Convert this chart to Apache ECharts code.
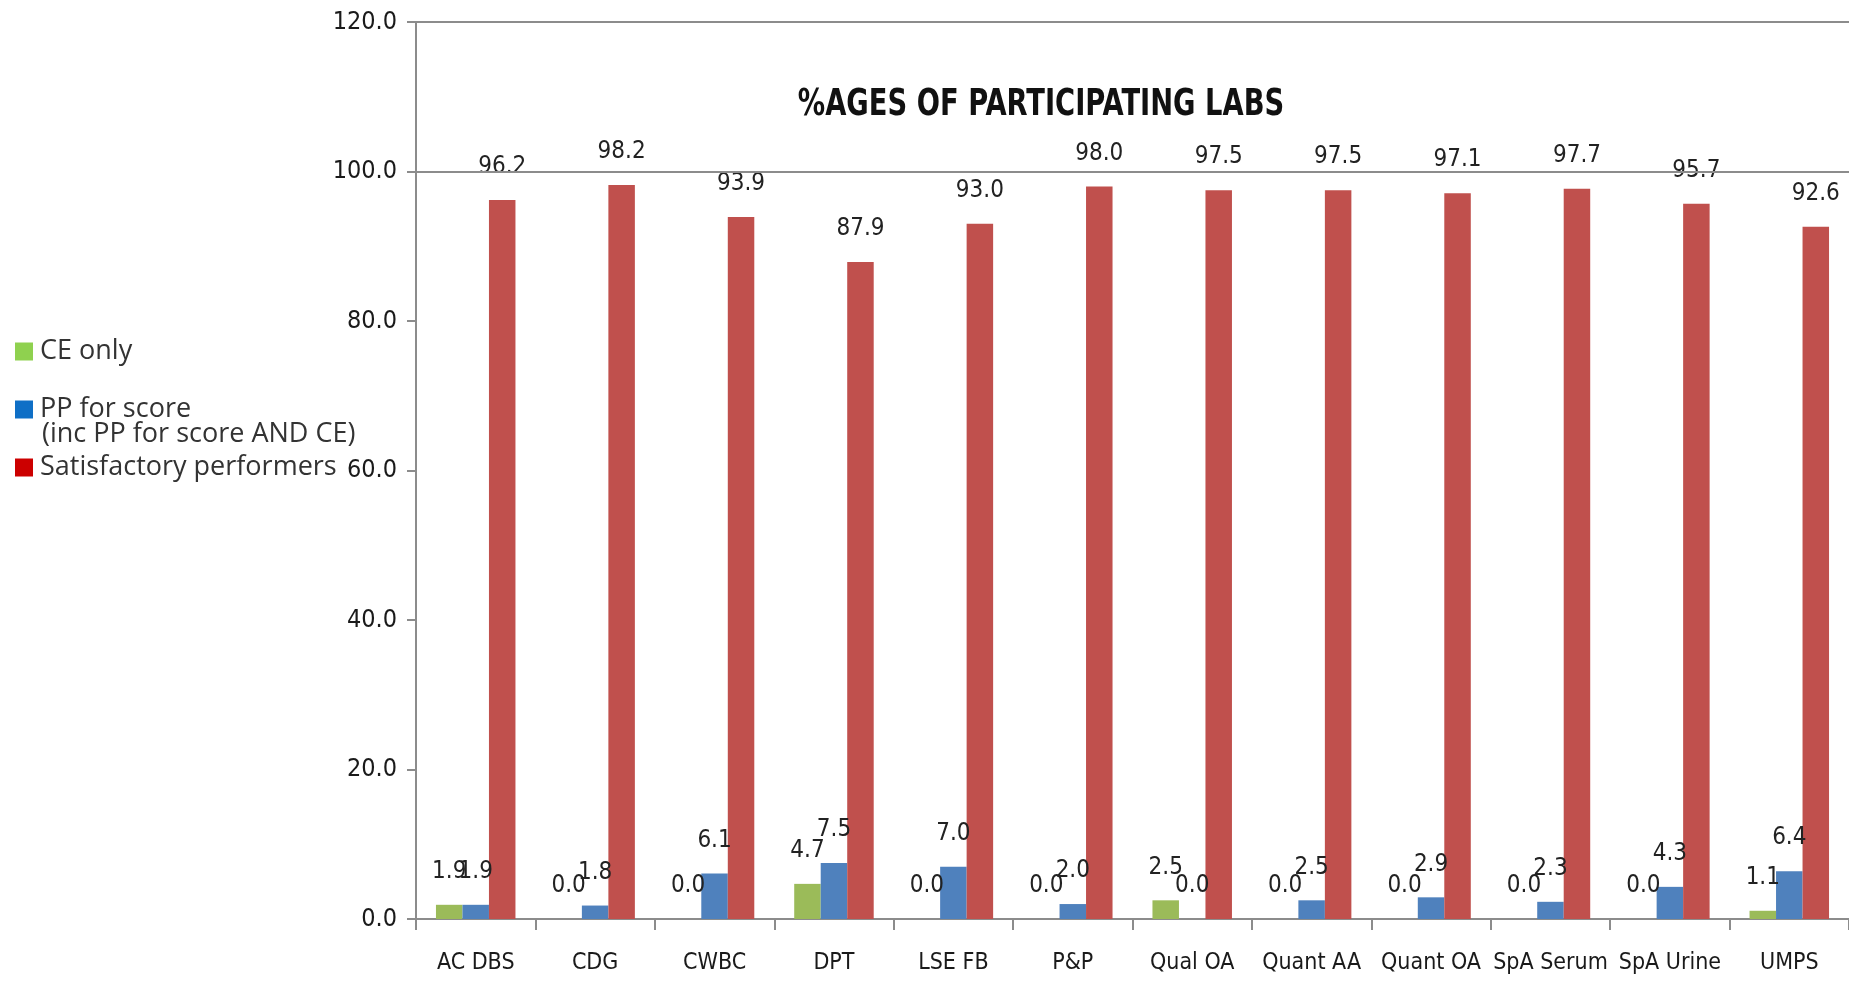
<!DOCTYPE html>
<html>
<head>
<meta charset="utf-8">
<style>
  html, body { margin: 0; padding: 0; background: #ffffff; }
  #chart { width: 1849px; height: 984px; }
</style>
<script src="https://cdn.jsdelivr.net/npm/echarts@6/dist/echarts.min.js"></script>
</head>
<body>
<div id="chart"></div>
<script>
// Scheme categories along the x axis
const categories = ['AC DBS', 'CDG', 'CWBC', 'DPT', 'LSE FB', 'P&P', 'Qual OA', 'Quant AA', 'Quant OA', 'SpA Serum', 'SpA Urine', 'UMPS'];

// Percentages of participating labs per scheme
const ceOnly        = [1.9, 0.0, 0.0, 4.7, 0.0, 0.0, 2.5, 0.0, 0.0, 0.0, 0.0, 1.1];
const ppForScore    = [1.9, 1.8, 6.1, 7.5, 7.0, 2.0, 0.0, 2.5, 2.9, 2.3, 4.3, 6.4];
const satisfactory  = [96.2, 98.2, 93.9, 87.9, 93.0, 98.0, 97.5, 97.5, 97.1, 97.7, 95.7, 92.6];

// Y axis range and step
const yMin = 0, yMax = 120, yStep = 20;
// Reference lines drawn across the plot
const refLines = [100, 120];

const titleText = '%AGES OF PARTICIPATING LABS';
const nameCE  = 'CE only';
const namePP  = 'PP for score (inc PP for score AND CE)';
const nameSat = 'Satisfactory performers';

const narrow = '"DejaVu Sans Condensed", "Liberation Sans", sans-serif';
const legendFont = '"Open Sans", "Noto Sans", sans-serif';

const chart = echarts.init(document.getElementById('chart'), null, { renderer: 'canvas' });

const labelStyle = {
  show: true,
  position: 'top',
  distance: 21,
  fontFamily: narrow,
  fontSize: 24,
  color: '#222222',
  formatter: p => Number(p.value).toFixed(1)
};

function legendAt(name, top, color, fmt) {
  return {
    show: true,
    left: 10,
    top: top,
    orient: 'vertical',
    icon: 'rect',
    itemWidth: 18,
    itemHeight: 18,
    itemGap: 0,
    selectedMode: false,
    textStyle: { fontFamily: legendFont, fontSize: 27, color: '#333333', padding: [0, 0, 0, 2] },
    formatter: fmt || (n => n),
    data: [{ name: name, itemStyle: { color: color } }]
  };
}

const option = {
  backgroundColor: '#ffffff',
  animation: false,
  legend: [
    legendAt(nameCE, 333, '#8fd14f'),
    legendAt(namePP, 391, '#0f6fc6', () => 'PP for score'),
    legendAt(nameSat, 449, '#cc0000')
  ],
  graphic: [
    {
      // chart title, set in a condensed bold face
      type: 'text',
      x: 1041,
      y: 105,
      scaleX: 0.8,
      style: {
        text: titleText,
        font: 'bold 38px ' + narrow,
        fill: '#111111',
        textAlign: 'center',
        textVerticalAlign: 'middle'
      }
    },
    {
      // second line of the PP legend entry
      type: 'text',
      x: 42,
      y: 434,
      style: {
        text: '(inc PP for score AND CE)',
        font: '27px ' + legendFont,
        fill: '#333333',
        textAlign: 'left',
        textVerticalAlign: 'middle'
      }
    }
  ],
  grid: { left: 416, top: 22, width: 1437, height: 897, containLabel: false },
  xAxis: {
    type: 'category',
    data: categories,
    boundaryGap: true,
    axisLine: { show: true, lineStyle: { color: '#8c8c8c', width: 2 } },
    axisTick: { show: true, length: 11, alignWithLabel: false, lineStyle: { color: '#8c8c8c', width: 2 } },
    axisLabel: { margin: 33, fontFamily: narrow, fontSize: 23, color: '#1a1a1a', interval: 0 },
    splitLine: { show: false }
  },
  yAxis: {
    type: 'value',
    min: yMin,
    max: yMax,
    interval: yStep,
    axisLine: { show: true, lineStyle: { color: '#8c8c8c', width: 2 } },
    axisTick: { show: true, length: 9, lineStyle: { color: '#8c8c8c', width: 2 } },
    axisLabel: { margin: 19, fontFamily: narrow, fontSize: 25, color: '#1a1a1a', formatter: v => v.toFixed(1) },
    splitLine: { show: false }
  },
  series: [
    {
      name: nameCE,
      type: 'bar',
      data: ceOnly,
      barWidth: 26.5,
      barGap: '0%',
      itemStyle: { color: '#9bbb59' },
      label: labelStyle,
      markLine: {
        silent: true,
        symbol: 'none',
        label: { show: false },
        lineStyle: { color: '#8c8c8c', width: 2, type: 'solid' },
        data: refLines.map(v => ({ yAxis: v }))
      }
    },
    {
      name: namePP,
      type: 'bar',
      data: ppForScore,
      barWidth: 26.5,
      barGap: '0%',
      itemStyle: { color: '#4f81bd' },
      label: labelStyle
    },
    {
      name: nameSat,
      type: 'bar',
      data: satisfactory,
      barWidth: 26.5,
      barGap: '0%',
      itemStyle: { color: '#c0504d' },
      label: labelStyle
    }
  ]
};

chart.setOption(option);
</script>
</body>
</html>
